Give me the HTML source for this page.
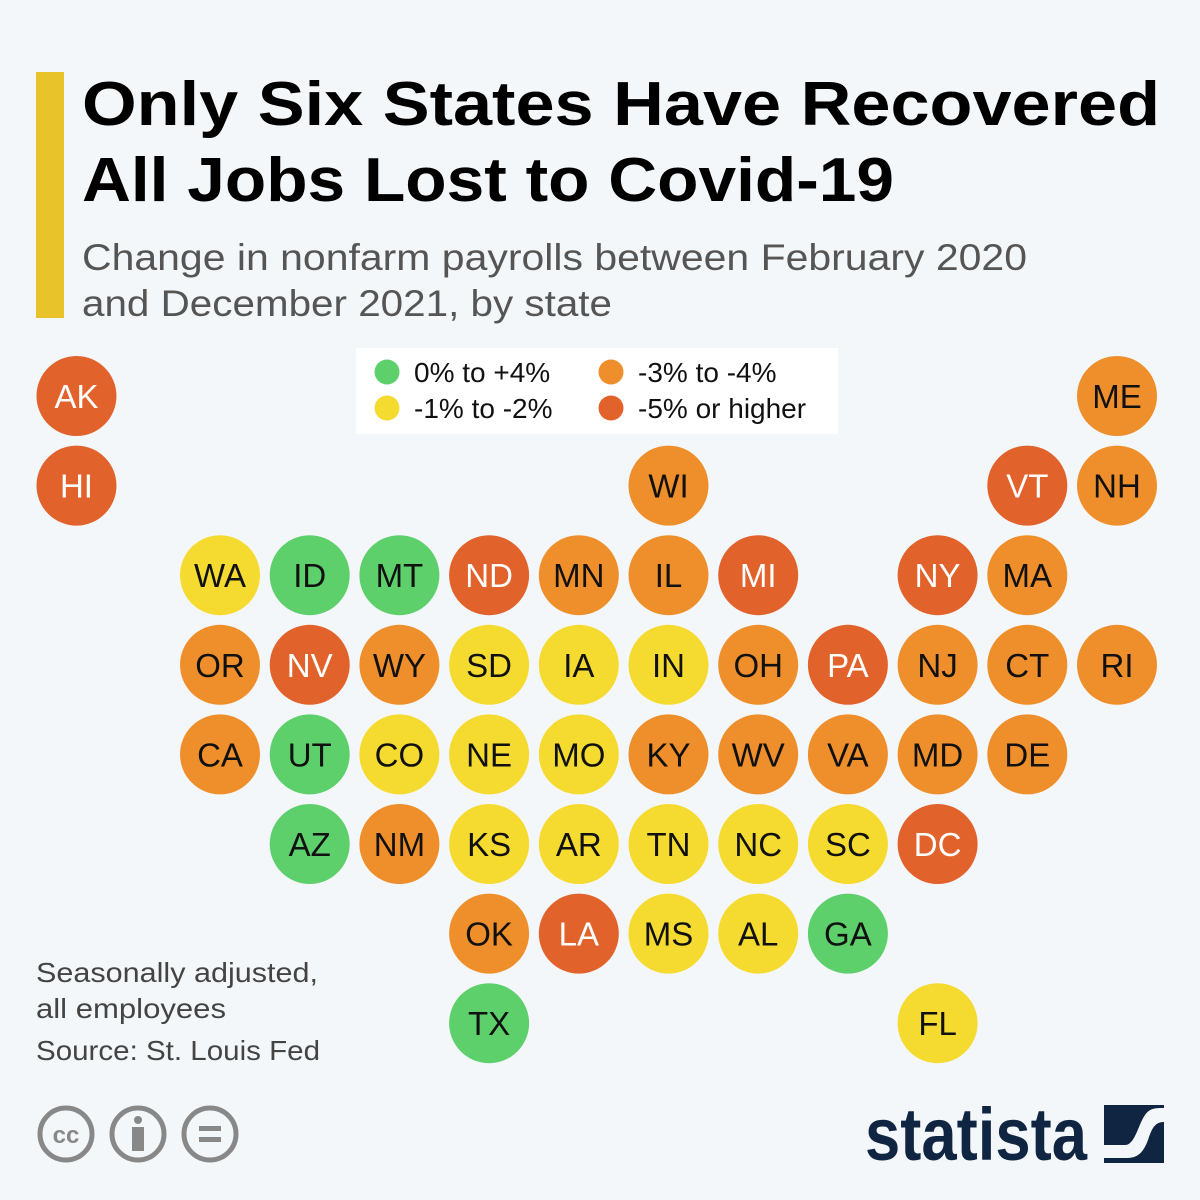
<!DOCTYPE html>
<html><head><meta charset="utf-8"><style>
html,body{margin:0;padding:0;background:#f4f7fa}
svg{display:block;font-family:"Liberation Sans",sans-serif}
</style></head><body>
<svg id="chart" width="1200" height="1200" viewBox="0 0 1200 1200">
<rect width="1200" height="1200" fill="#f4f7fa"/>
<rect x="36" y="72" width="28" height="246" fill="#e8c42a"/>
<text x="82" y="125" font-size="62" font-weight="bold" fill="#000" textLength="1078" lengthAdjust="spacingAndGlyphs">Only Six States Have Recovered</text>
<text x="82" y="201" font-size="62" font-weight="bold" fill="#000" textLength="812" lengthAdjust="spacingAndGlyphs">All Jobs Lost to Covid-19</text>
<text x="82" y="270" font-size="37" fill="#555" textLength="945" lengthAdjust="spacingAndGlyphs">Change in nonfarm payrolls between February 2020</text>
<text x="82" y="316" font-size="37" fill="#555" textLength="530" lengthAdjust="spacingAndGlyphs">and December 2021, by state</text>
<g>
<rect x="356" y="348" width="482" height="86" fill="#fff"/>
<g id="legend-items"></g>
</g>
<g id="circles"></g>
<text x="36" y="982" font-size="28" fill="#444" textLength="282" lengthAdjust="spacingAndGlyphs">Seasonally adjusted,</text>
<text x="36" y="1018" font-size="28" fill="#444" textLength="190" lengthAdjust="spacingAndGlyphs">all employees</text>
<text x="36" y="1060" font-size="28" fill="#444" textLength="284" lengthAdjust="spacingAndGlyphs">Source: St. Louis Fed</text>
<g fill="none" stroke="#888" stroke-width="5">
<circle cx="66" cy="1134" r="26"/>
<circle cx="138" cy="1134" r="26"/>
<circle cx="210" cy="1134" r="26"/>
</g>
<text x="66" y="1143" font-size="24" font-weight="bold" fill="#888" text-anchor="middle">cc</text>
<circle cx="138" cy="1120" r="4" fill="#888"/>
<rect x="132" y="1127" width="12" height="24" fill="#888"/>
<rect x="199" y="1126" width="22" height="5" fill="#888"/>
<rect x="199" y="1137" width="22" height="5" fill="#888"/>
<text x="1087" y="1160" font-size="74" font-weight="bold" fill="#0f2541" text-anchor="end" textLength="222" lengthAdjust="spacingAndGlyphs">statista</text>
<g>
<rect x="1104" y="1105" width="60" height="58" fill="#0f2541"/>
<path d="M1104 1145 L1125 1145 C1135 1145 1138 1125 1145 1115 C1150 1108 1155 1108 1164 1108 L1164 1122 C1155 1122 1152 1128 1148 1140 C1142 1156 1135 1158 1125 1158 L1104 1158 Z" fill="#f4f7fa"/>
</g>
</svg>
<script>
const states=["AK","HI","ME","WI","VT","NH","WA","ID","MT","ND","MN","IL","MI","NY","MA","OR","NV","WY","SD","IA","IN","OH","PA","NJ","CT","RI","CA","UT","CO","NE","MO","KY","WV","VA","MD","DE","AZ","NM","KS","AR","TN","NC","SC","DC","OK","LA","MS","AL","GA","TX","FL"];
const gridCol=[-0.6,-0.6,11,6,10,11,1,2,3,4,5,6,7,9,10,1,2,3,4,5,6,7,8,9,10,11,1,2,3,4,5,6,7,8,9,10,2,3,4,5,6,7,8,9,4,5,6,7,8,4,9];
const gridRow=[0,1,0,1,1,1,2,2,2,2,2,2,2,2,2,3,3,3,3,3,3,3,3,3,3,3,4,4,4,4,4,4,4,4,4,4,5,5,5,5,5,5,5,5,6,6,6,6,6,7,7];
// category: 0 = 0% to +4%, 1 = -1% to -2%, 2 = -3% to -4%, 3 = -5% or higher
const category=[3,3,2,2,3,2,1,0,0,3,2,2,3,3,2,2,3,2,1,1,1,2,3,2,2,2,2,0,1,1,1,2,2,2,2,2,0,2,1,1,1,1,1,3,2,3,1,1,0,0,1];
const legendLabels=["0% to +4%","-1% to -2%","-3% to -4%","-5% or higher"];
const colors=["#5dd06c","#f5db2f","#ef8f2b","#e2622c"];
const textColors=["#111","#111","#111","#fff"];
const NS="http://www.w3.org/2000/svg";
const xPos=c=>220+c*89.7-89.7;
const yPos=r=>396+r*89.6;
const g=document.getElementById("circles");
states.forEach((s,i)=>{
  const c=document.createElementNS(NS,"circle");
  c.setAttribute("cx",xPos(gridCol[i]));c.setAttribute("cy",yPos(gridRow[i]));c.setAttribute("r",40);
  c.setAttribute("fill",colors[category[i]]);
  
  
  g.appendChild(c);
  const t=document.createElementNS(NS,"text");
  t.setAttribute("x",xPos(gridCol[i]));t.setAttribute("y",yPos(gridRow[i])+12);
  t.setAttribute("font-size","33");t.setAttribute("text-anchor","middle");
  t.setAttribute("fill",textColors[category[i]]);
  t.textContent=s;
  
  
  g.appendChild(t);
});
const lg=document.getElementById("legend-items");
legendLabels.forEach((l,i)=>{
  const x=i<2?387:611, y=i%2===0?372:408;
  const c=document.createElementNS(NS,"circle");
  c.setAttribute("cx",x);c.setAttribute("cy",y);c.setAttribute("r",12.5);c.setAttribute("fill",colors[i]);
  
  
  lg.appendChild(c);
  const t=document.createElementNS(NS,"text");
  t.setAttribute("x",x+27);t.setAttribute("y",y+10);t.setAttribute("font-size","28");t.setAttribute("fill","#111");
  t.textContent=l;
  
  
  lg.appendChild(t);
});
</script>
</body></html>
